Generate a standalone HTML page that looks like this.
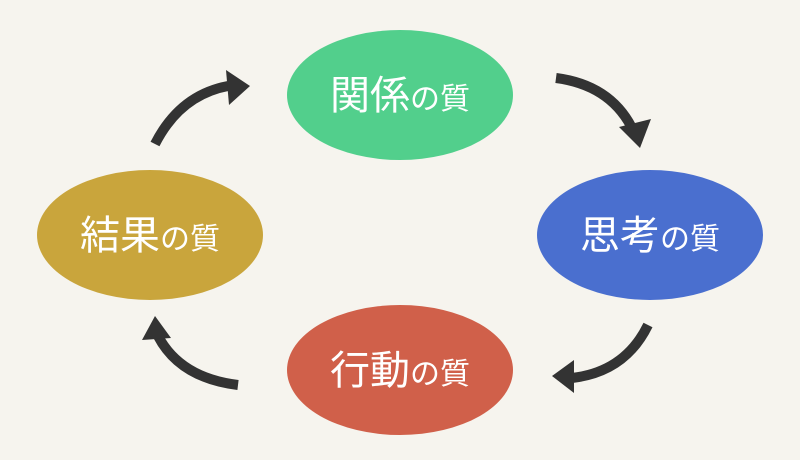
<!DOCTYPE html>
<html><head><meta charset="utf-8"><style>
html,body{margin:0;padding:0;background:#f6f4ee;}
svg{display:block}
text{font-family:"Liberation Sans","Noto Sans CJK JP",sans-serif;fill:#fff;}
</style></head><body>
<svg width="800" height="460" viewBox="0 0 800 460">
<rect width="800" height="460" fill="#f6f4ee"/>
<ellipse cx="400" cy="95" rx="113" ry="65" fill="#52cf8c"/>
<ellipse cx="650" cy="235" rx="113" ry="65" fill="#4a6fcf"/>
<ellipse cx="400" cy="370" rx="113" ry="65" fill="#d0604a"/>
<ellipse cx="150" cy="235" rx="113" ry="65" fill="#c9a53c"/>
<g font-size="40">
<text x="400" y="109" text-anchor="middle">関係<tspan font-size="30">の質</tspan></text>
<text x="650" y="249" text-anchor="middle">思考<tspan font-size="30">の質</tspan></text>
<text x="400" y="384" text-anchor="middle">行動<tspan font-size="30">の質</tspan></text>
<text x="150" y="249" text-anchor="middle">結果<tspan font-size="30">の質</tspan></text>
</g>
<g fill="none" stroke="#333" stroke-width="10">
<path d="M155,144 Q180,95 228,86"/>
<path d="M556,78 Q610,85 632,128"/>
<path d="M648,325 Q625,372 572,378"/>
<path d="M238,385 Q180,378 158,336"/>
</g>
<g fill="#333">
<polygon points="226,70 250,86 229,105"/>
<polygon points="619,127 640,148 651,119"/>
<polygon points="574,360 552,376 574,393"/>
<polygon points="142,340 155,316 171,338"/>
</g>
</svg>
</body></html>
